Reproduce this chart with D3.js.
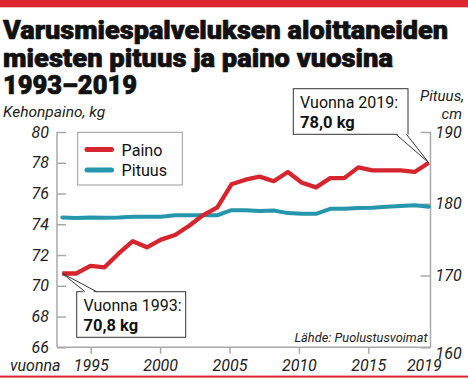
<!DOCTYPE html>
<html><head><meta charset="utf-8">
<script src="https://cdn.jsdelivr.net/npm/d3@7"></script>
<style>
html,body{margin:0;padding:0;background:#fff;}
svg{display:block;}
text{font-family:Roboto,"Liberation Sans",sans-serif;}
</style></head>
<body>
<svg id="c" width="468" height="379"></svg>
<script>
const years = [1993,1994,1995,1996,1997,1998,1999,2000,2001,2002,2003,2004,2005,2006,2007,2008,2009,2010,2011,2012,2013,2014,2015,2016,2017,2018,2019];
const paino = [70.8,70.8,71.3,71.2,72.1,72.9,72.5,73.0,73.3,73.9,74.6,75.1,76.6,76.9,77.1,76.8,77.4,76.7,76.4,77.0,77.0,77.7,77.5,77.5,77.5,77.4,78.0];
const pituus = [178.1,178.0,178.1,178.05,178.1,178.2,178.2,178.2,178.4,178.4,178.4,178.4,179.1,179.1,179.0,179.05,178.7,178.6,178.6,179.3,179.3,179.4,179.45,179.6,179.7,179.8,179.6];
const kgTicks = [66,68,70,72,74,76,78,80];
const cmTicks = [160,170,180,190];
const yearTicks = [1995,2000,2005,2010,2015,2019];
const titleLines = ["Varusmiespalveluksen aloittaneiden","miesten pituus ja paino vuosina","1993–2019"];
const seriesNames = ["Paino","Pituus"];
const RED = "#d6252e", TEAL = "#2596ab", AX = "#a8a8a8";

const svg = d3.select("#c");
svg.append("rect").attr("x",0).attr("y",0).attr("width",468).attr("height",7.3).attr("fill","#dd2530");
svg.append("rect").attr("x",0).attr("y",375.6).attr("width",468).attr("height",2).attr("fill","#dd2530");

const tW = [445,390,134], tY = [39.3,66.6,94];
titleLines.forEach((t,i)=>{
  svg.append("text").attr("x",3).attr("y",tY[i]).text(t)
    .attr("font-size",26).attr("font-weight",900).attr("fill","#111")
    .attr("stroke","#111").attr("stroke-width",0.7).attr("stroke-linejoin","round")
    .attr("textLength",tW[i]).attr("lengthAdjust","spacingAndGlyphs");
});

const L = 57, R = 430.5, T = 132, B = 347.3;
const x = d3.scaleLinear().domain([1993,2019]).range([62.3,428.8]);
const xAx = d3.scaleLinear().domain([1995,2015]).range([90.7,368.3]);
const yL = d3.scaleLinear().domain([66,80]).range([B,T]);
const yR = d3.scaleLinear().domain([160,190]).range([B,T]);

const g = svg.append("g");
g.append("line").attr("x1",L).attr("x2",L).attr("y1",T).attr("y2",B).attr("stroke",AX).attr("stroke-width",1.5);
g.append("line").attr("x1",R).attr("x2",R).attr("y1",T).attr("y2",B).attr("stroke",AX).attr("stroke-width",1.5);
g.append("line").attr("x1",L).attr("x2",R).attr("y1",B).attr("y2",B).attr("stroke",AX).attr("stroke-width",1.5);

function styleAxis(sel){
  sel.select(".domain").remove();
  sel.selectAll(".tick line").attr("stroke",AX).attr("stroke-width",1.5);
  sel.selectAll(".tick text").attr("font-family","Roboto, sans-serif").attr("font-style","italic")
    .attr("font-size",16).attr("fill","#222");
}
const gl = svg.append("g").attr("transform",`translate(${L},0)`)
  .call(d3.axisLeft(yL).tickValues(kgTicks).tickSize(-9).tickPadding(8).tickFormat(d3.format("d")));
styleAxis(gl);
const gr = svg.append("g").attr("transform",`translate(${R},0)`)
  .call(d3.axisRight(yR).tickValues(cmTicks).tickSize(-10).tickPadding(5).tickFormat(d3.format("d")));
styleAxis(gr);
gr.selectAll(".tick").filter(d=>d===160).select("text").attr("dy","0.72em");
const gb = svg.append("g").attr("transform",`translate(0,${B})`)
  .call(d3.axisBottom(xAx).tickValues(yearTicks).tickSize(6.5).tickPadding(6).tickFormat(d3.format("d")));
styleAxis(gb);
gb.selectAll(".tick").filter(d=>d===2019).select("line").remove();

const ital = (s,xx,yy,anchor,size)=>svg.append("text").attr("x",xx).attr("y",yy).text(s)
  .attr("font-style","italic").attr("font-size",size||16).attr("fill","#222").attr("text-anchor",anchor||"start");
ital("Kehonpaino, kg",3,117,"start",15.5);
ital("vuonna",10,371);
ital("Pituus,",464,101.3,"end",15);
ital("cm",462,119,"end",15);
ital("Lähde: Puolustusvoimat",427.5,342,"end",12.8);

const lineL = d3.line().x((d,i)=>x(years[i])).y(d=>yL(d));
const lineR = d3.line().x((d,i)=>x(years[i])).y(d=>yR(d));
svg.append("path").datum(pituus).attr("d",lineR).attr("fill","none").attr("stroke",TEAL)
  .attr("stroke-width",4).attr("stroke-linejoin","round").attr("stroke-linecap","round");
svg.append("path").datum(paino).attr("d",lineL).attr("fill","none").attr("stroke",RED)
  .attr("stroke-width",4.3).attr("stroke-linejoin","round").attr("stroke-linecap","butt");

const lg = svg.append("g");
lg.append("rect").attr("x",77.7).attr("y",132.3).attr("width",104.6).attr("height",52.7)
  .attr("fill","#fff").attr("stroke","#9a9a9a").attr("stroke-width",1);
[RED,TEAL].forEach((c,i)=>{
  const yy = 149.5 + i*20.5;
  lg.append("line").attr("x1",87).attr("x2",111.5).attr("y1",yy).attr("y2",yy)
    .attr("stroke",c).attr("stroke-width",5).attr("stroke-linecap","round");
  lg.append("text").attr("x",121.5).attr("y",yy+6.2).text(seriesNames[i])
    .attr("font-size",16.2).attr("fill","#111");
});

function callout(idx, bx, by, bw, bh, b1, b2, baseY, label, value){
  const px = x(years[idx]), py = yL(paino[idx]);
  const cg = svg.append("g");
  cg.append("rect").attr("x",bx).attr("y",by).attr("width",bw).attr("height",bh)
    .attr("fill","#fff").attr("stroke","#333").attr("stroke-width",1);
  const inside = baseY > py ? 1.5 : -1.5;
  cg.append("path").attr("d",`M${b1},${baseY+inside}L${px},${py}L${b2},${baseY+inside}Z`)
    .attr("fill","#fff").attr("stroke","none");
  cg.append("path").attr("d",`M${b1},${baseY}L${px},${py}L${b2},${baseY}`)
    .attr("fill","none").attr("stroke","#333").attr("stroke-width",1);
  cg.append("text").attr("x",bx+6.8).attr("y",by+19.4).text(label)
    .attr("font-size",16).attr("fill","#111");
  cg.append("text").attr("x",bx+6.8).attr("y",by+39).text(value)
    .attr("font-size",16.5).attr("font-weight",700).attr("fill","#111");
}
callout(0, 76.7, 291.7, 109, 45.6, 85, 96.7, 291.7, "Vuonna 1993:", "70,8 kg");
callout(26, 293.3, 88.7, 114.7, 45.6, 396, 406.5, 134.3, "Vuonna 2019:", "78,0 kg");
</script>
</body></html>
